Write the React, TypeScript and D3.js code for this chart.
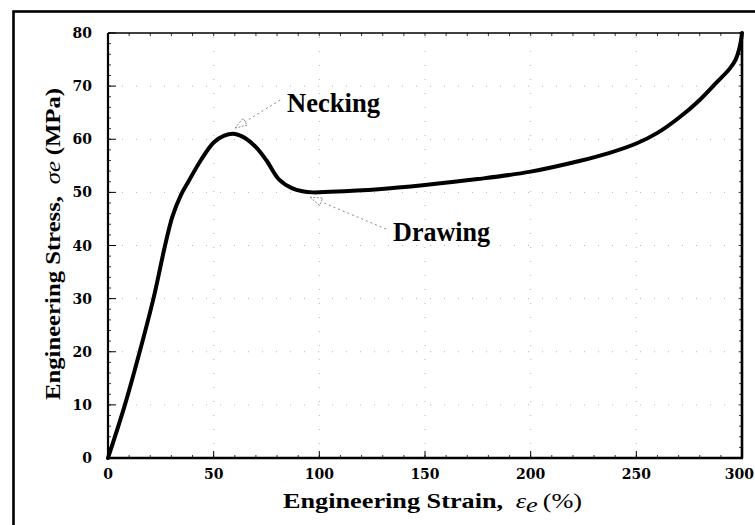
import React from 'react';
import * as d3 from 'd3';

const strain = [0, 8, 15, 21.5, 27, 30.5, 34.5, 38, 44, 50, 55, 60, 65, 70, 75, 81, 87, 92, 97, 105, 128, 150, 175, 200, 223, 237, 250, 260, 270, 280, 288, 294, 297, 299, 300];
const stress = [0, 10, 20, 30, 40, 45.5, 49.5, 52, 56.1, 59.4, 60.7, 61.0, 60.2, 58.5, 56.0, 52.4, 50.8, 50.2, 50.0, 50.1, 50.6, 51.4, 52.5, 53.9, 55.9, 57.4, 59.2, 61.2, 64.0, 67.4, 70.7, 73.2, 75.0, 77.5, 80];

const xTicks = [0, 50, 100, 150, 200, 250, 300];
const yTicks = [0, 10, 20, 30, 40, 50, 60, 70, 80];
const xGrid = [50, 100, 150, 200, 250];
const yGrid = [10, 20, 30, 40, 50, 60, 70];

const annLabels = ['Necking', 'Drawing'];
const annTextX = [84.7, 134.9];
const annTextY = [65.2, 40.8];
const annLineX0 = [81.5, 131.6];
const annLineY0 = [67.4, 43.1];
const annTipX = [60.1, 95.6];
const annTipY = [62.1, 49.1];

const W = 755, H = 525;
const L = 108, R = 742, T = 33, B = 458;

export default function App() {
  const x = d3.scaleLinear().domain([0, 300]).range([L, R]);
  const y = d3.scaleLinear().domain([0, 80]).range([B, T]);
  const pts = strain.map((s, i) => [s, stress[i]] as [number, number]);
  const line = d3.line<[number, number]>().x(d => x(d[0])).y(d => y(d[1])).curve(d3.curveCatmullRom.alpha(0.5));
  const xMinor = d3.range(0, 301, 10);
  const yMinor = d3.range(0, 81, 2);
  const tickFont = "'DejaVu Serif', serif";
  const txtFont = "'Liberation Serif', 'Times New Roman', serif";

  return (
    <svg width={W} height={H} style={{ position: 'absolute', left: 0, top: 0, background: '#fff' }}>
      <rect x={13.5} y={11.5} width={760} height={530} fill="#fff" stroke="#000" strokeWidth={2.6} />
      {/* grid */}
      <g stroke="#b5b5b5" strokeWidth={1} strokeDasharray="1,13">
        {xGrid.map(v => <line key={'gx' + v} x1={x(v)} x2={x(v)} y1={B} y2={T} />)}
        {yGrid.map(v => <line key={'gy' + v} x1={L} x2={R} y1={y(v)} y2={y(v)} />)}
      </g>
      {/* minor ticks */}
      <g stroke="#000" strokeWidth={0.8}>
        {xMinor.map(v => <line key={'xm' + v} x1={x(v)} x2={x(v)} y1={B} y2={B - 3} />)}
        {xMinor.map(v => <line key={'xmt' + v} x1={x(v)} x2={x(v)} y1={T} y2={T + 3} />)}
        {yMinor.map(v => <line key={'ym' + v} x1={L} x2={L + 3} y1={y(v)} y2={y(v)} />)}
        {yMinor.map(v => <line key={'ymr' + v} x1={R} x2={R - 3} y1={y(v)} y2={y(v)} />)}
      </g>
      <g stroke="#000" strokeWidth={1}>
        {xTicks.map(v => <line key={'xt' + v} x1={x(v)} x2={x(v)} y1={B} y2={B - 7} />)}
        {yTicks.map(v => <line key={'yt' + v} x1={L} x2={L + 8} y1={y(v)} y2={y(v)} />)}
      </g>
      {/* frame */}
      <line x1={L} x2={R} y1={T} y2={T} stroke="#000" strokeWidth={1.6} />
      <line x1={R} x2={R} y1={T} y2={B} stroke="#000" strokeWidth={2.6} />
      <line x1={L} x2={L} y1={T} y2={B + 1} stroke="#000" strokeWidth={2.2} />
      <line x1={L - 1} x2={R + 1} y1={B} y2={B} stroke="#000" strokeWidth={2.6} />
      {/* tick labels */}
      {xTicks.map((v, i) => {
        const last = i === xTicks.length - 1;
        return (
          <text key={'xl' + v} x={last ? W - 1 : x(v)} y={479} textAnchor={last ? 'end' : 'middle'} fontFamily={tickFont} fontWeight="bold" fontSize={14}>{v}</text>
        );
      })}
      {yTicks.map(v => (
        <text key={'yl' + v} x={92} y={y(v) + 5} textAnchor="end" fontFamily={tickFont} fontWeight="bold" fontSize={14}>{v}</text>
      ))}
      {/* curve */}
      <path d={line(pts) || ''} fill="none" stroke="#000" strokeWidth={4} strokeLinejoin="round" strokeLinecap="round" />
      {/* annotations */}
      {annLabels.map((lab, i) => {
        const x0 = x(annLineX0[i]), y0 = y(annLineY0[i]);
        const tx = x(annTipX[i]), ty = y(annTipY[i]);
        const ang = Math.atan2(ty - y0, tx - x0);
        const len = 12, half = 4;
        const bx = tx - len * Math.cos(ang), by = ty - len * Math.sin(ang);
        const p1 = [bx + half * Math.sin(ang), by - half * Math.cos(ang)];
        const p2 = [bx - half * Math.sin(ang), by + half * Math.cos(ang)];
        return (
          <g key={lab}>
            <line x1={x0} y1={y0} x2={bx} y2={by} stroke="#888" strokeWidth={1} strokeDasharray="2,3" />
            <polygon points={`${tx},${ty} ${p1[0]},${p1[1]} ${p2[0]},${p2[1]}`} fill="none" stroke="#888" strokeWidth={1} strokeDasharray="2,1.5" />
            <text x={x(annTextX[i])} y={y(annTextY[i])} fontFamily={txtFont} fontWeight="bold" fontSize={27} textLength={i === 0 ? 93 : 97} lengthAdjust="spacingAndGlyphs">{lab}</text>
          </g>
        );
      })}
      {/* axis titles */}
      <text x={283} y={508} fontFamily={txtFont} fontSize={21} textLength={299} lengthAdjust="spacingAndGlyphs">
        <tspan fontWeight="bold">Engineering Strain,</tspan>
        <tspan dx={10} fontStyle="italic">ε</tspan>
        <tspan fontStyle="italic" dy={4}>e</tspan>
        <tspan dx={4} dy={-4}>(%)</tspan>
      </text>
      <text transform="translate(60,400) rotate(-90)" fontFamily={txtFont} fontSize={21} textLength={312} lengthAdjust="spacingAndGlyphs">
        <tspan fontWeight="bold">Engineering Stress,</tspan>
        <tspan dx={10} fontStyle="italic">σe</tspan>
        <tspan dx={5} fontWeight="bold">(MPa)</tspan>
      </text>
    </svg>
  );
}
